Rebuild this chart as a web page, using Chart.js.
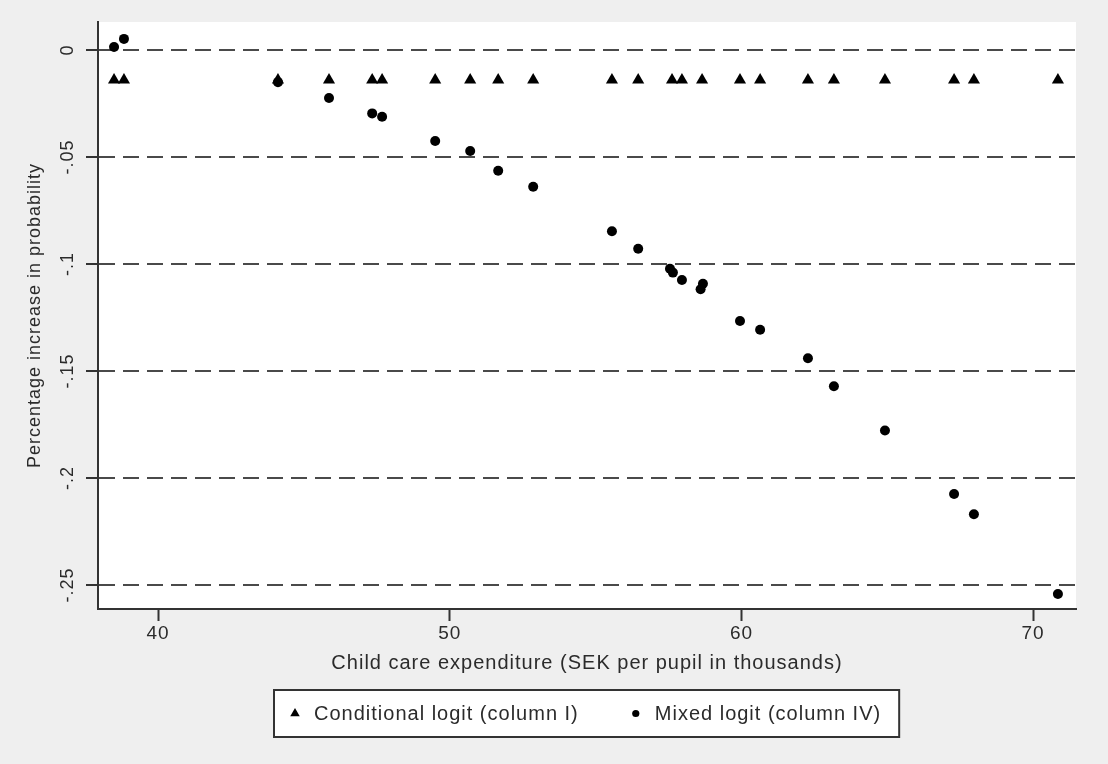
<!DOCTYPE html>
<html>
<head>
<meta charset="utf-8">
<title>Child care expenditure and probability</title>
<script src="https://cdn.jsdelivr.net/npm/chart.js@4.4.1/dist/chart.umd.min.js"></script>
<style>
  html, body { margin: 0; padding: 0; background: #efefef; }
  canvas { display: block; }
</style>
</head>
<body>
<canvas id="chart" width="1108" height="764"></canvas>
<script>
const xTicks = [40, 50, 60, 70];
const yTicks = [0, -0.05, -0.1, -0.15, -0.2, -0.25];

const seriesNames = ['Conditional logit (column I)', 'Mixed logit (column IV)'];

// conditional logit: flat line of triangles
const conditionalX = [38.49, 38.83, 44.11, 45.86, 47.34, 47.68, 49.50, 50.70, 51.66, 52.86, 55.56, 56.46,
  57.62, 57.96, 58.65, 59.95, 60.64, 62.28, 63.17, 64.92, 67.29, 67.97, 70.85];
const conditionalY = [-0.014, -0.014, -0.014, -0.014, -0.014, -0.014, -0.014, -0.014, -0.014, -0.014, -0.014, -0.014,
  -0.014, -0.014, -0.014, -0.014, -0.014, -0.014, -0.014, -0.014, -0.014, -0.014, -0.014];

// mixed logit: dots
const mixedX = [38.49, 38.83, 44.11, 45.86, 47.34, 47.68, 49.50, 50.70, 51.66, 52.86, 55.56, 56.46,
  57.55, 57.65, 57.96, 58.60, 58.68, 59.95, 60.64, 62.28, 63.17, 64.92, 67.29, 67.97, 70.85];
const mixedY = [0.0014, 0.0052, -0.015, -0.0224, -0.0296, -0.0312, -0.0425, -0.0472, -0.0564, -0.0639, -0.0847, -0.0929,
  -0.1022, -0.1040, -0.1075, -0.1118, -0.1092, -0.1266, -0.1307, -0.1440, -0.1571, -0.1778, -0.2075, -0.2169, -0.2542];

const FONT = '"Liberation Sans", Arial, sans-serif';
const INK = '#2b2b2b';

function pairs(xs, ys){ return xs.map((x, i) => ({ x, y: ys[i] })); }

function stataNum(v){
  if(Math.abs(v) < 1e-9) return '0';
  return String(Math.round(v * 100) / 100).replace('0.', '.');
}

const plotBackground = {
  id: 'plotBackground',
  beforeDraw(chart){
    const { ctx, chartArea: a } = chart;
    ctx.letterSpacing = '1px';
    ctx.save();
    ctx.fillStyle = '#ffffff';
    ctx.fillRect(a.left, a.top, a.right - a.left, a.bottom - a.top);
    ctx.restore();
  }
};

// y tick labels run bottom-to-top like the original
const verticalYLabels = {
  id: 'verticalYLabels',
  afterDraw(chart){
    const s = chart.scales.y, ctx = chart.ctx;
    ctx.save();
    ctx.font = `18px ${FONT}`;
    ctx.fillStyle = INK;
    ctx.textAlign = 'center';
    ctx.textBaseline = 'middle';
    s.ticks.forEach(t => {
      ctx.save();
      ctx.translate(s.right - 30, s.getPixelForValue(t.value));
      ctx.rotate(-Math.PI / 2);
      ctx.fillText(t.label, 0, 0);
      ctx.restore();
    });
    ctx.restore();
  }
};

const boxedLegend = {
  id: 'boxedLegend',
  afterDraw(chart, args, opts){
    const { ctx, chartArea: a } = chart;
    ctx.save();
    ctx.font = `20px ${FONT}`;
    const items = chart.data.datasets.map(ds => ({ ds, w: ctx.measureText(ds.label).width }));
    const padL = 21, gapMark = 19, gapItem = 57, padR = 18, h = 47;
    const total = padL + items.reduce((s, it) => s + gapMark + it.w, 0) + gapItem * (items.length - 1) + padR;
    const left = Math.round((a.left + a.right) / 2 - total / 2);
    const top = a.bottom + 81;
    ctx.fillStyle = '#ffffff';
    ctx.fillRect(left, top, total, h);
    ctx.lineWidth = 2;
    ctx.strokeStyle = '#333';
    ctx.strokeRect(left, top, total, h);
    const cy = top + h / 2;
    let x = left + padL;
    items.forEach((it, i) => {
      ctx.fillStyle = it.ds.backgroundColor;
      Chart.helpers.drawPoint(ctx, { pointStyle: it.ds.pointStyle, radius: opts.markerRadius[i], borderWidth: 0, rotation: 0 }, x, cy);
      ctx.fillStyle = INK;
      ctx.textAlign = 'left';
      ctx.textBaseline = 'middle';
      ctx.fillText(it.ds.label, x + gapMark, cy + 1);
      x += gapMark + it.w + gapItem;
    });
    ctx.restore();
  }
};

new Chart(document.getElementById('chart'), {
  type: 'scatter',
  data: {
    datasets: [
      { label: seriesNames[0], data: pairs(conditionalX, conditionalY), pointStyle: 'triangle',
        pointRadius: 7, backgroundColor: '#000', borderWidth: 0 },
      { label: seriesNames[1], data: pairs(mixedX, mixedY), pointStyle: 'circle',
        pointRadius: 5, backgroundColor: '#000', borderWidth: 0 }
    ]
  },
  options: {
    responsive: false,
    animation: false,
    devicePixelRatio: 1,
    layout: { padding: { top: 22, right: 32, bottom: 89, left: 0 } },
    plugins: {
      legend: { display: false },
      tooltip: { enabled: false },
      boxedLegend: { markerRadius: [5.5, 3.6] }
    },
    scales: {
      x: {
        type: 'linear', position: 'bottom', min: 37.94, max: 71.47,
        afterBuildTicks: s => { s.ticks = xTicks.map(v => ({ value: v })); },
        afterFit: s => { s.height = 66; },
        grid: { drawOnChartArea: false, drawTicks: true, tickLength: 12, tickWidth: 2, tickColor: '#333' },
        border: { color: '#333', width: 2 },
        ticks: { padding: 1, color: INK, font: { family: FONT, size: 19 } },
        title: { display: true, text: 'Child care expenditure (SEK per pupil in thousands)', color: INK,
          font: { family: FONT, size: 20 }, padding: { top: 0, bottom: 0 } }
      },
      y: {
        type: 'linear', position: 'left', min: -0.2612, max: 0.0131,
        afterBuildTicks: s => { s.ticks = yTicks.map(v => ({ value: v })); },
        afterFit: s => { s.width = 98; },
        grid: { color: '#4a4a4a', lineWidth: 2, tickLength: 12, tickWidth: 2, tickColor: '#333', tickBorderDash: [] },
        border: { color: '#333', width: 2, dash: [16, 8] },
        ticks: { display: false, callback: v => stataNum(v) },
        title: { display: true, text: 'Percentage increase in probability', color: INK,
          font: { family: FONT, size: 18 }, padding: { top: 24, bottom: 0 } }
      }
    }
  },
  plugins: [plotBackground, verticalYLabels, boxedLegend]
});
</script>
</body>
</html>
